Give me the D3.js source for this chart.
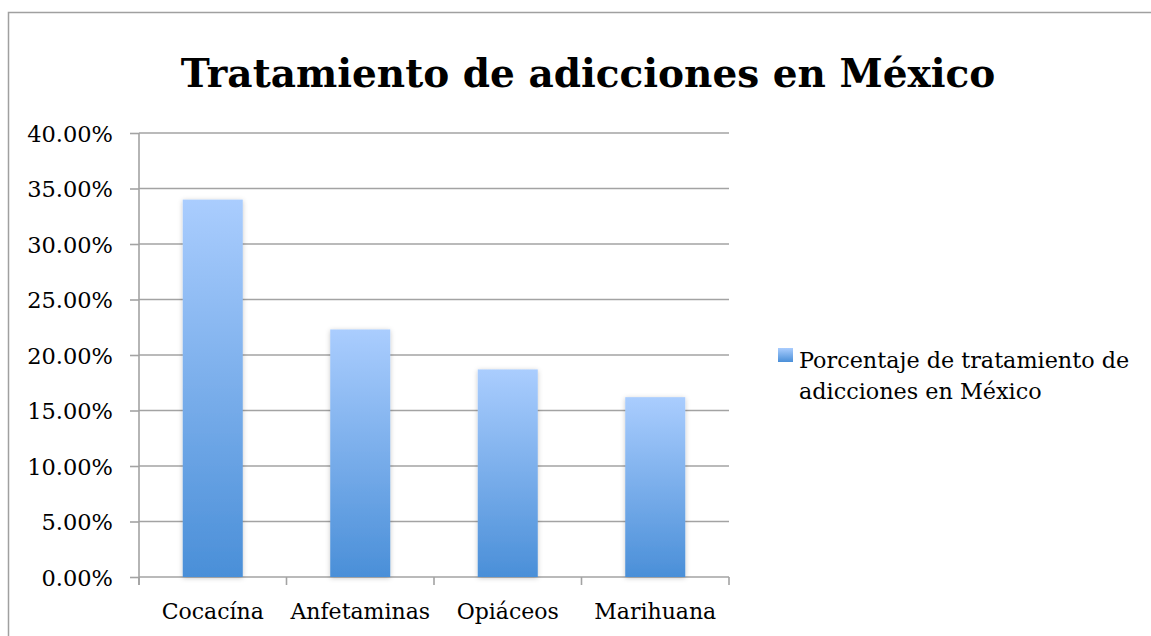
<!DOCTYPE html>
<html>
<head>
<meta charset="utf-8">
<script src="https://cdn.jsdelivr.net/npm/d3@7"></script>
<style>
  html, body { margin: 0; padding: 0; background: #fff; }
  svg { display: block; }
  text { font-family: "DejaVu Serif", "Liberation Serif", serif; fill: #000; }
</style>
</head>
<body>
<svg id="chart" width="1151" height="636"></svg>
<script>
// Chart data
const categories = ["Cocacína", "Anfetaminas", "Opiáceos", "Marihuana"];
const values = [0.34, 0.223, 0.187, 0.162];
const yTicks = [0, 0.05, 0.10, 0.15, 0.20, 0.25, 0.30, 0.35, 0.40];
const titleText = "Tratamiento de adicciones en México";
const legendLines = ["Porcentaje de tratamiento de", "adicciones en México"];

const svg = d3.select("#chart");
const W = 1151, H = 636;
const plot = { left: 139, right: 729, top: 133, bottom: 577 };
const gridColor = "#a3a3a3";

// Bar gradient and soft shadow
const defs = svg.append("defs");
const grad = defs.append("linearGradient")
  .attr("id", "barGrad").attr("x1", 0).attr("y1", 0).attr("x2", 0).attr("y2", 1);
grad.append("stop").attr("offset", "0%").attr("stop-color", "#aacdfe");
grad.append("stop").attr("offset", "100%").attr("stop-color", "#4a8fd8");
const shadow = defs.append("filter").attr("id", "barShadow")
  .attr("x", "-30%").attr("y", "-10%").attr("width", "160%").attr("height", "120%");
shadow.append("feDropShadow").attr("dx", 0).attr("dy", 1)
  .attr("stdDeviation", 2.5).attr("flood-color", "#000").attr("flood-opacity", 0.22);

// Outer frame
svg.append("rect")
  .attr("x", 8.5).attr("y", 12.5).attr("width", W + 20).attr("height", H + 20)
  .attr("fill", "#fff").attr("stroke", "#a0a0a0").attr("stroke-width", 1.5);

// Scales
const x = d3.scaleBand().domain(categories)
  .range([plot.left, plot.right]).paddingInner(0.593).paddingOuter(0.2965);
const y = d3.scaleLinear().domain([0, 0.40]).range([plot.bottom, plot.top]);
const fmt = d3.format(".2%");

// Horizontal gridlines
svg.append("g").selectAll("line").data(yTicks.filter(d => d > 0)).join("line")
  .attr("x1", plot.left).attr("x2", plot.right)
  .attr("y1", d => y(d)).attr("y2", d => y(d))
  .attr("stroke", gridColor).attr("stroke-width", 1.6);

// Y axis
const yAxis = svg.append("g").attr("transform", `translate(${plot.left},0)`)
  .call(d3.axisLeft(y).tickValues(yTicks).tickFormat(fmt).tickSize(9).tickPadding(17));
yAxis.select(".domain").remove();
yAxis.selectAll(".tick line").attr("stroke", gridColor).attr("stroke-width", 1.6);
yAxis.selectAll(".tick text")
  .style("font-family", "DejaVu Serif").style("font-size", "22.5px")
  .attr("fill", "#000").attr("dy", "0.36em");
svg.append("line")
  .attr("x1", plot.left).attr("x2", plot.left)
  .attr("y1", plot.top).attr("y2", plot.bottom + 8)
  .attr("stroke", gridColor).attr("stroke-width", 1.6);

// X axis line with boundary ticks between categories
svg.append("line")
  .attr("x1", plot.left).attr("x2", plot.right)
  .attr("y1", plot.bottom).attr("y2", plot.bottom)
  .attr("stroke", gridColor).attr("stroke-width", 1.6);
const bounds = categories.map(c => x(c) - x.step() * x.paddingOuter()).concat([plot.right]);
svg.append("g").selectAll("line").data(bounds).join("line")
  .attr("x1", d => d).attr("x2", d => d)
  .attr("y1", plot.bottom).attr("y2", plot.bottom + 8)
  .attr("stroke", gridColor).attr("stroke-width", 1.6);

// Bars
svg.append("g").selectAll("rect").data(values).join("rect")
  .attr("x", (d, i) => x(categories[i]))
  .attr("y", d => y(d))
  .attr("width", x.bandwidth())
  .attr("height", d => y(0) - y(d))
  .attr("fill", "url(#barGrad)")
  .attr("filter", "url(#barShadow)");

// Category labels
svg.append("g").selectAll("text").data(categories).join("text")
  .attr("x", d => x(d) + x.bandwidth() / 2)
  .attr("y", 619)
  .attr("text-anchor", "middle")
  .style("font-size", "22px")
  .text(d => d);

// Title, scaled to its set width
const title = svg.append("text")
  .attr("x", 588).attr("y", 87)
  .attr("text-anchor", "middle")
  .style("font-weight", "bold").style("font-size", "48px")
  .text(titleText);
const tw = title.node().getComputedTextLength();
title.style("font-size", (48 * 815 / tw).toFixed(2) + "px");

// Legend
svg.append("rect")
  .attr("x", 778).attr("y", 348).attr("width", 15).attr("height", 14)
  .attr("fill", "url(#barGrad)");
svg.append("g").selectAll("text").data(legendLines).join("text")
  .attr("x", 799)
  .attr("y", (d, i) => 368 + i * 31)
  .style("font-size", "22.3px")
  .text(d => d);
</script>
</body>
</html>
